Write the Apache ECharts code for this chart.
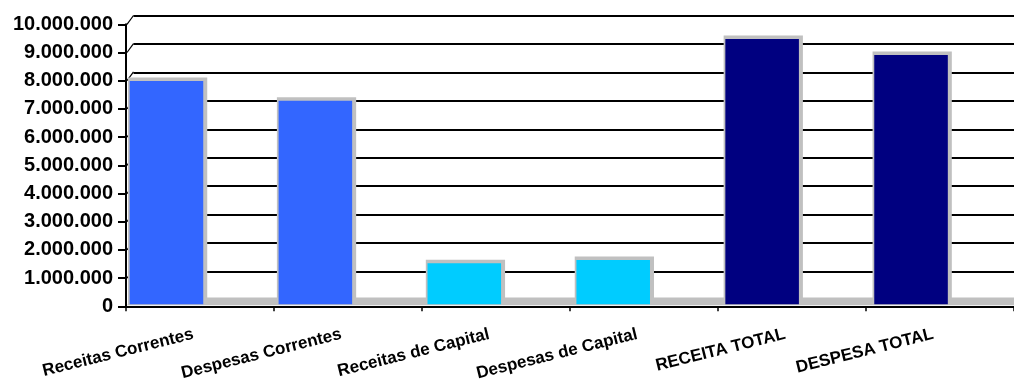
<!DOCTYPE html>
<html>
<head>
<meta charset="utf-8">
<script src="https://cdn.jsdelivr.net/npm/echarts@6/dist/echarts.min.js"></script>
<style>
  html, body { margin: 0; padding: 0; background: #ffffff; }
  #chart { width: 1014px; height: 383px; }
</style>
</head>
<body>
<div id="chart"></div>
<script>
// Budget summary: revenues and expenses (R$)
const categories = [
  'Receitas Correntes',
  'Despesas Correntes',
  'Receitas de Capital',
  'Despesas de Capital',
  'RECEITA TOTAL',
  'DESPESA TOTAL'
];
const values = [7840000, 7150000, 1440000, 1560000, 9320000, 8760000];
const barColors = ['#3366FF', '#3366FF', '#00CCFF', '#00CCFF', '#000080', '#000080'];
const yTickValues = [0, 1000000, 2000000, 3000000, 4000000, 5000000, 6000000, 7000000, 8000000, 9000000, 10000000];
const yTickLabels = ['0', '1.000.000', '2.000.000', '3.000.000', '4.000.000', '5.000.000',
  '6.000.000', '7.000.000', '8.000.000', '9.000.000', '10.000.000'];

// depth of the 3D box (back wall offset from the front plane)
const DEPTH_X = 7.5;
const DEPTH_Y = 9.4;
const FLOOR = '#C0C0C0';
const FONT = '"Liberation Sans", Arial, sans-serif';

const chart = echarts.init(document.getElementById('chart'), null, { renderer: 'canvas' });

const yMax = 10000000;
const bandWidth = 893.5;

const option = {
  animation: false,
  backgroundColor: '#ffffff',
  grid: [
    // back wall (gridlines)
    { left: 126 + DEPTH_X, top: 24.3 - DEPTH_Y + 0.6, width: 1014 - 126 - DEPTH_X, height: 285 - 0.6 },
    // front plane (axes and labels)
    { left: 126, top: 24.3, width: bandWidth, height: 285 },
    // bar plane (midway in depth, shifted by perspective)
    { left: 92, top: 19.6, width: bandWidth, height: 284.7 }
  ],
  xAxis: [
    { gridIndex: 0, type: 'value', min: 0, max: 1, show: false },
    {
      gridIndex: 1, type: 'category', data: categories, boundaryGap: true, z: 5,
      axisLine: { show: true, lineStyle: { color: '#000', width: 2 } },
      axisTick: { show: true, length: 5, lineStyle: { color: '#000', width: 1.5 } },
      axisLabel: {
        interval: 0, rotate: 14, margin: 26, padding: [0, 7, 0, 0],
        color: '#000', fontFamily: FONT, fontWeight: 'bold', fontSize: 17
      },
      splitLine: { show: false }
    },
    { gridIndex: 2, type: 'category', data: categories, boundaryGap: true, show: false }
  ],
  yAxis: [
    {
      gridIndex: 0, type: 'value', min: 0, max: yMax, interval: 1000000,
      axisLine: { show: false }, axisTick: { show: false }, axisLabel: { show: false },
      splitLine: { show: true, showMinLine: false, lineStyle: { color: '#000', width: 2 } }
    },
    {
      gridIndex: 1, type: 'value', min: 0, max: yMax, interval: 1000000, z: 5,
      axisLine: { show: true, lineStyle: { color: '#000', width: 2 } },
      axisTick: { show: true, length: 8, lineStyle: { color: '#000', width: 2 } },
      axisLabel: {
        margin: 13, color: '#000', fontFamily: FONT, fontWeight: 'bold', fontSize: 20,
        formatter: function (v) {
          const i = yTickValues.indexOf(v);
          return i >= 0 ? yTickLabels[i] : '';
        }
      },
      splitLine: { show: false }
    },
    { gridIndex: 2, type: 'value', min: 0, max: yMax, show: false }
  ],
  series: [
    // floor of the 3D box
    {
      type: 'custom', xAxisIndex: 1, yAxisIndex: 1, z: 1, silent: true,
      data: [[0, 0]],
      renderItem: function (params, api) {
        const cs = params.coordSys;
        const y0 = api.coord([0, 0])[1] - 1;
        return {
          type: 'polygon',
          shape: { points: [
            [cs.x + 1, y0], [1014, y0], [1014, y0 - DEPTH_Y + 1.5], [cs.x + DEPTH_X, y0 - DEPTH_Y + 1.5]
          ] },
          style: { fill: FLOOR }
        };
      }
    },
    // short edges joining each axis tick to its gridline on the back wall
    {
      type: 'custom', xAxisIndex: 1, yAxisIndex: 1, z: 1, silent: true,
      data: yTickValues.slice(1).map(function (v) { return [0, v]; }),
      renderItem: function (params, api) {
        const cs = params.coordSys;
        const y = api.coord([0, api.value(1)])[1];
        return {
          type: 'line',
          shape: { x1: cs.x + 1, y1: y, x2: cs.x + DEPTH_X, y2: y - DEPTH_Y + 0.6 },
          style: { stroke: '#000', lineWidth: 1.2 }
        };
      }
    },
    // columns
    {
      type: 'custom', xAxisIndex: 2, yAxisIndex: 2, z: 3,
      data: values.map(function (v, i) { return [i, v]; }),
      renderItem: function (params, api) {
        const i = api.value(0);
        const top = api.coord([i, api.value(1)]);
        const base = api.coord([i, 0]);
        const bw = api.size([1, 0])[0] * 0.494;
        const x = top[0] - bw / 2;
        return {
          type: 'group',
          children: [
            {
              type: 'rect',
              shape: { x: x - 1.7, y: top[1] - 3.5, width: bw + 5.7, height: base[1] - top[1] + 3.5 },
              style: { fill: FLOOR }
            },
            {
              type: 'rect',
              shape: { x: x, y: top[1], width: bw, height: base[1] - top[1] },
              style: { fill: barColors[i] }
            }
          ]
        };
      }
    }
  ]
};

chart.setOption(option);
</script>
</body>
</html>
